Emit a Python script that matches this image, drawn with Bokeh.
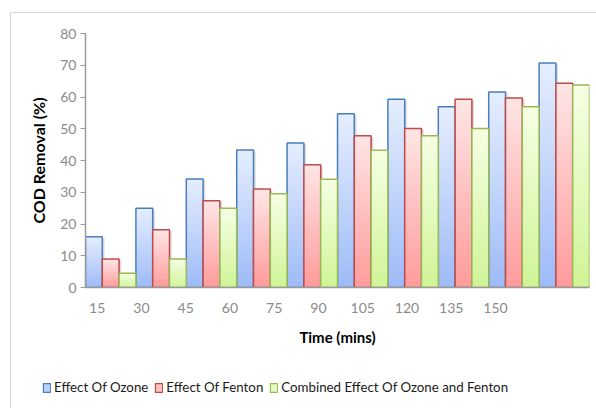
from bokeh.plotting import figure
from bokeh.layouts import column, row
from bokeh.models import (Range1d, LinearAxis, FixedTicker, Legend, LegendItem,
                          ColumnDataSource)
from bokeh.embed import file_html
from bokeh.resources import INLINE

# ---- data -------------------------------------------------------------
time_labels = ["15", "30", "45", "60", "75", "90", "105", "120", "135", "150"]
ozone = [16.0, 25.0, 34.2, 43.3, 45.5, 54.7, 59.3, 56.9, 61.6, 70.7]
fenton = [9.0, 18.2, 27.3, 31.0, 38.7, 47.8, 50.1, 59.3, 59.7, 64.3]
combined = [4.5, 9.0, 25.0, 29.5, 34.1, 43.2, 47.8, 50.1, 56.9, 63.8]
series_names = ["Effect Of Ozone", "Effect Of Fenton",
                "Combined Effect Of Ozone and Fenton"]
y_ticks = [0, 10, 20, 30, 40, 50, 60, 70, 80]

# ---- style ------------------------------------------------------------
FONT = "Lato"
edge_colors = ["#4a7ebb", "#be4b48", "#98b954"]
top_colors = ["#e6eefe", "#ffe6e6", "#f6ffe4"]
bottom_colors = ["#9dbbf8", "#ff9a9a", "#d0f497"]
legend_fill = ["#b9cffb", "#ffc0c0", "#e6fbbf"]
N_STRIPES = 24


def hex2rgb(h):
    h = h.lstrip("#")
    return [int(h[i:i + 2], 16) for i in (0, 2, 4)]


def mix(c1, c2, f):
    a, b = hex2rgb(c1), hex2rgb(c2)
    return "#%02x%02x%02x" % tuple(round(a[i] + (b[i] - a[i]) * f) for i in range(3))


n_groups = len(time_labels)
bar_w = 1.0 / 3
all_series = [ozone, fenton, combined]
group_x = [[i + (k + 0.5) * bar_w for i in range(n_groups)] for k in range(3)]

p = figure(width=585, height=348,
           x_range=Range1d(0, n_groups), y_range=Range1d(0, 80),
           x_axis_location=None,
           output_backend="svg", toolbar_location=None,
           min_border_left=74, min_border_right=7,
           min_border_top=20, min_border_bottom=74)
p.outline_line_color = None
p.grid.visible = False
p.background_fill_color = "white"
p.border_fill_color = "white"

# soft drop shadows behind the bars
for k, vals in enumerate(all_series):
    p.vbar(x=[x + 0.045 for x in group_x[k]], width=bar_w, bottom=0,
           top=[v - 0.4 for v in vals],
           fill_color="black", fill_alpha=0.13, line_color=None)

for k, vals in enumerate(all_series):
    xs = group_x[k]

    # vertical gradient: light at the top, deeper at the base
    sx, sb, st, sc = [], [], [], []
    for x, v in zip(xs, vals):
        for j in range(N_STRIPES):
            f = 1 - (j + 0.5) / N_STRIPES
            sx.append(x)
            sb.append(v * j / N_STRIPES)
            st.append(min(v, v * (j + 1) / N_STRIPES + 0.15))
            sc.append(mix(top_colors[k], bottom_colors[k], f))
    src = ColumnDataSource(dict(x=sx, bottom=sb, top=st, color=sc))
    p.vbar(x="x", width=bar_w, bottom="bottom", top="top", source=src,
           fill_color="color", line_color=None)

    p.vbar(x=xs, width=bar_w, bottom=0, top=vals,
           fill_color=None, line_color=edge_colors[k], line_width=1.5)

# ---- y axis -----------------------------------------------------------
ya = p.yaxis[0]
ya.ticker = FixedTicker(ticks=y_ticks)
ya.axis_label = "COD Removal (%)"
ya.axis_label_text_font = FONT
ya.axis_label_text_font_style = "bold"
ya.axis_label_text_font_size = "16px"
ya.axis_label_text_color = "black"
ya.axis_label_standoff = 9
ya.major_label_text_font = FONT
ya.major_label_text_font_size = "14px"
ya.major_label_text_color = "#8a8a8a"
ya.major_label_standoff = 4
ya.major_tick_out = 5
ya.major_tick_in = 0
ya.minor_tick_line_color = None
ya.axis_line_color = "#9a9a9a"
ya.major_tick_line_color = "#9a9a9a"
ya.axis_line_width = 1.5

# ---- x axis (category labels) -----------------------------------------
p.extra_x_ranges = {"lbl": Range1d(0.736, 12.124)}
xa = LinearAxis(x_range_name="lbl",
                ticker=FixedTicker(ticks=list(range(1, n_groups + 1))),
                major_label_overrides={i + 1: t for i, t in enumerate(time_labels)},
                axis_label="Time (mins)")
xa.axis_label_text_font = FONT
xa.axis_label_text_font_style = "bold"
xa.axis_label_text_font_size = "15px"
xa.axis_label_text_color = "black"
xa.axis_label_standoff = 12
xa.major_label_text_font = FONT
xa.major_label_text_font_size = "14px"
xa.major_label_text_color = "#8a8a8a"
xa.major_label_standoff = 15
xa.major_tick_out = 0
xa.major_tick_in = 0
xa.major_tick_line_color = None
xa.minor_tick_line_color = None
xa.axis_line_color = "#9a9a9a"
xa.axis_line_width = 1.5
p.add_layout(xa, "below")

# ---- legend strip beneath the chart --------------------------------------
leg = figure(width=585, height=47, x_range=Range1d(0, n_groups),
             y_range=Range1d(0, 80),
             x_axis_location=None, y_axis_location=None,
             output_backend="svg", toolbar_location=None, min_border=0)
leg.outline_line_color = None
leg.grid.visible = False
leg.background_fill_color = "white"
leg.border_fill_color = "white"

legend_items = []
for k, vals in enumerate(all_series):
    # hidden copy of each series: only its swatch appears in the legend
    swatch = leg.vbar(x=group_x[k], top=vals, width=bar_w, bottom=0,
                      fill_color=legend_fill[k], line_color=edge_colors[k],
                      line_width=1.2, visible=False)
    legend_items.append(LegendItem(label=series_names[k], renderers=[swatch]))

legend = Legend(items=legend_items, orientation="horizontal",
                location=(31, 13), click_policy="none",
                glyph_width=9, glyph_height=11, label_standoff=3, spacing=6,
                padding=0, margin=0, label_height=16,
                border_line_color=None, background_fill_alpha=0,
                label_text_font=FONT, label_text_font_size="13.3px",
                label_text_color="#1a1a1a")
leg.add_layout(legend)

page = column(p, row(leg), spacing=0, margin=(12, 0, 0, 10),
              styles={"border-top": "1px solid #d9d9d9",
                      "border-left": "1px solid #d9d9d9"})

open("out.html", "w").write(file_html(page, INLINE))
